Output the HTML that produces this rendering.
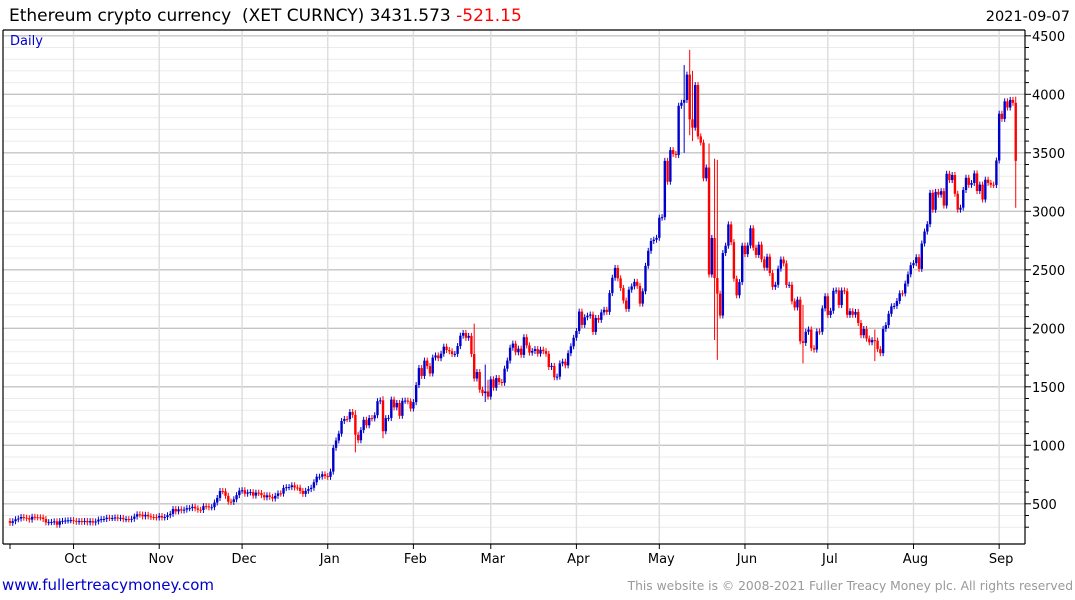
<!DOCTYPE html>
<html><head><meta charset="utf-8">
<style>
body{margin:0;background:#fff;width:1075px;height:600px;overflow:hidden;font-family:"DejaVu Sans","Liberation Sans",sans-serif}
svg{display:block}
text{font-family:"DejaVu Sans","Liberation Sans",sans-serif}
</style></head>
<body>
<svg id="chart" width="1075" height="600">
<text x="9" y="21" font-size="17" fill="#000" xml:space="preserve" style="white-space:pre">Ethereum crypto currency  (XET CURNCY) 3431.573 <tspan fill="#f00">-521.15</tspan></text>
<text x="1070" y="21" font-size="14.5" text-anchor="end" fill="#000">2021-09-07</text>
<g id="grid"></g>
<g id="bars"></g>
<g id="axes"></g>
<text x="10" y="45" font-size="13" fill="#00c">Daily</text>
<text x="2" y="590" font-size="15" fill="#00c">www.fullertreacymoney.com</text>
<text x="1073" y="590" font-size="12.3" fill="#999" text-anchor="end">This website is © 2008-2021 Fuller Treacy Money plc. All rights reserved</text>
</svg>
<script>
const startOpen = 352;
const closes = [
337,351,368,374,387,381,377,365,389,385,384,383,370,341,343,345,350,321,351,354,357,359,360,
354,346,352,346,353,341,352,340,349,365,369,370,381,378,378,383,377,380,368,369,367,372,391,410,408,392,406,393,387,386,383,
396,383,387,402,414,455,435,453,443,450,462,463,475,461,449,447,480,478,470,471,511,550,609,607,568,518,516,538,574,612,
616,586,597,600,570,595,592,574,555,572,559,545,568,589,587,636,642,643,658,639,638,610,585,611,626,637,684,731,732,752,737,
730,775,978,1041,1099,1208,1225,1224,1284,1260,1090,1043,1130,1218,1171,1233,1230,1257,1377,1384,1120,1232,1234,1391,1324,1362,1252,1380,1382,1376,1314,
1369,1515,1660,1593,1724,1677,1614,1750,1768,1744,1783,1843,1814,1804,1780,1781,1848,1937,1960,1919,1935,1780,1571,1626,1475,1446,1460,1416,
1564,1492,1575,1541,1534,1655,1724,1834,1869,1795,1826,1773,1924,1854,1792,1806,1822,1783,1817,1805,1782,1669,1679,1582,1587,1700,1715,1683,1787,1846,1919,
1977,2143,2029,2094,2108,2118,1969,2088,2072,2136,2158,2140,2301,2432,2516,2427,2344,2237,2166,2330,2358,2397,2363,2211,2316,2534,2662,2746,2757,2773,
2945,2950,3431,3253,3523,3490,3482,3902,3928,3952,4168,3786,3715,4079,3640,3587,3282,3374,2460,2772,2430,2296,2109,2643,2706,2888,2736,2424,2282,2395,2706,
2634,2708,2855,2689,2627,2715,2590,2518,2612,2472,2354,2372,2510,2588,2555,2370,2372,2230,2178,2245,1889,1875,1970,1990,1830,1818,1973,1970,2170,2274,
2114,2150,2321,2324,2198,2324,2317,2115,2146,2116,2140,2045,1941,1994,1912,1880,1899,1895,1822,1787,1995,2027,2124,2188,2191,2233,2299,2298,2382,2461,2539,
2557,2608,2508,2725,2827,2890,3158,3013,3166,3142,3172,3049,3321,3267,3310,3150,3014,3031,3182,3287,3226,3242,3324,3173,3228,3101,3270,3243,3227,3225,3434,
3834,3790,3940,3887,3952,3927,3431];
const spikeIdx = [125,135,168,172,173,244,246,247,253,255,256,287,313,364];
const spikeHigh = [1300,1420,2040,1690,1560,4250,4380,4200,3580,3450,3440,2200,1990,3980];
const spikeLow = [940,1060,1850,1370,1450,3500,3650,3600,3200,1900,1730,1700,1720,3030];
const yTicks = [500,1000,1500,2000,2500,3000,3500,4000,4500];
const monthLabels = ["Oct","Nov","Dec","Jan","Feb","Mar","Apr","May","Jun","Jul","Aug","Sep"];
const monthStartIdx = [23,54,84,115,146,174,205,235,266,296,327,358];

const NS="http://www.w3.org/2000/svg";
const X0=10, DX=2.763, PL=3, PR=1025, PT=30, PB=544;
const xs=i=>X0+i*DX;
const ys=v=>94.3+(4000-v)*0.117;
function mk(tag,attrs,parent){const e=document.createElementNS(NS,tag);for(const k in attrs)e.setAttribute(k,attrs[k]);parent.appendChild(e);return e;}
const grid=document.getElementById('grid'),bars=document.getElementById('bars'),axes=document.getElementById('axes');
for(let v=300;v<=4500;v+=100){const y=ys(v);if(y<PT||y>PB)continue;
 const l=mk('line',{x1:PL,x2:PR,y1:y,y2:y,stroke:v%500===0?'#c4c4c4':'#ebebeb','stroke-width':v%500===0?1.4:1},grid);
 
 
 const t=mk('line',{x1:PR,x2:PR+(v%500===0?6:4),y1:y,y2:y,stroke:'#000'},axes);
 
 
}
monthStartIdx.forEach((idx,k)=>{const x=xs(idx);
 const l=mk('line',{x1:x,x2:x,y1:PT,y2:PB,stroke:'#dcdcdc','stroke-width':1.4},grid);
 
 
 const t=mk('line',{x1:x,x2:x,y1:PB,y2:PB+5,stroke:'#000'},axes);
 
 
 const tx=mk('text',{x:x+2,y:PB+19,'font-size':13,'text-anchor':'middle',fill:'#000'},axes);
 tx.textContent=monthLabels[k];
 
 
});
yTicks.forEach(v=>{const tx=mk('text',{x:PR+7,y:ys(v)+5,'font-size':13,fill:'#000'},axes);
 tx.textContent=v;
 
 
});
const fr=[[PL,PT,PR,PT],[PR,PT,PR,PB],[PL,PB,PR,PB],[PL,PT,PL,PB]];
fr.forEach(f=>{const l=mk('line',{x1:f[0],y1:f[1],x2:f[2],y2:f[3],stroke:'#000','stroke-width':1.2},axes);
 
 });
const xt=mk('line',{x1:X0,x2:X0,y1:PB,y2:PB+5,stroke:'#000'},axes);


let prev=startOpen;
closes.forEach((c,i)=>{const o=prev;prev=c;
 const up=c>=o, col=up?'#0000cc':'#ff0000', x=xs(i);
 const yt=ys(Math.max(o,c)), yb=ys(Math.min(o,c));
 const si=spikeIdx.indexOf(i);
 let yh=yt-3, yl=yb+3;
 if(si>=0){yh=Math.min(yh,ys(spikeHigh[si]));yl=Math.max(yl,ys(spikeLow[si]));}
 const w=mk('line',{x1:x,x2:x,y1:yh,y2:yl,stroke:col,'stroke-width':1},bars);
 
 
 const b=mk('rect',{x:x-1.2,y:yt,width:2.4,height:Math.max(1,yb-yt),fill:col},bars);
 
 
});
</script>
</body></html>
